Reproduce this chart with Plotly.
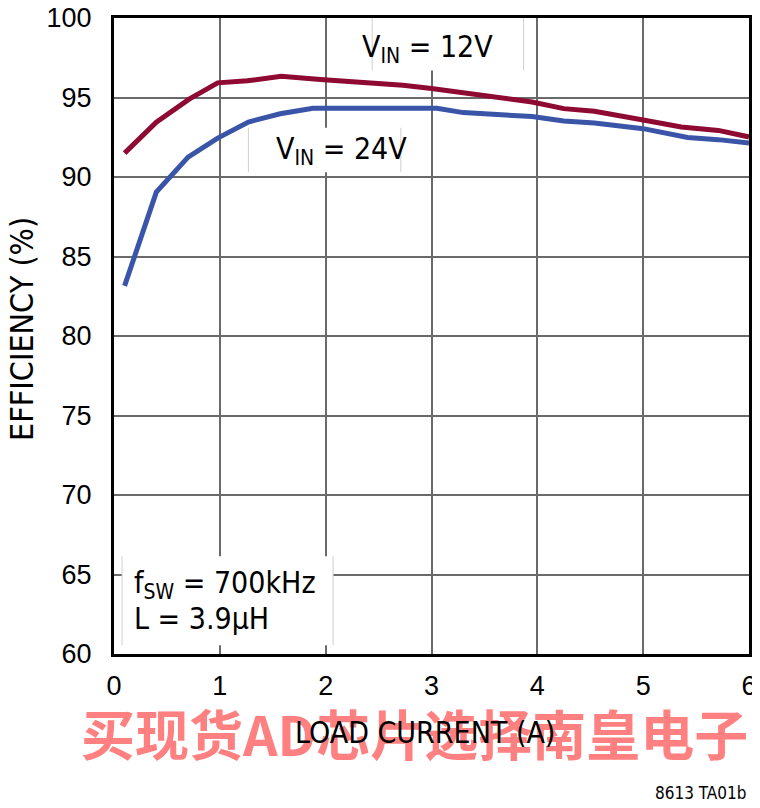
import plotly.graph_objects as go

# Data
load_12v = [0.1, 0.4, 0.71, 0.98, 1.26, 1.58, 1.95, 2.35, 2.73, 3.0, 3.4, 3.95, 4.25, 4.54, 5.0, 5.36, 5.71, 6.0]
eff_12v = [91.5, 93.45, 94.9, 95.92, 96.05, 96.33, 96.13, 95.95, 95.77, 95.56, 95.2, 94.72, 94.3, 94.13, 93.58, 93.15, 92.93, 92.52]

load_24v = [0.1, 0.4, 0.7, 0.98, 1.27, 1.57, 1.88, 3.05, 3.3, 3.95, 4.25, 4.54, 5.0, 5.42, 5.71, 6.0]
eff_24v = [83.15, 89.05, 91.25, 92.45, 93.46, 93.98, 94.32, 94.32, 94.05, 93.8, 93.52, 93.4, 93.04, 92.48, 92.35, 92.13]

x_ticks = [0, 1, 2, 3, 4, 5, 6]
y_ticks = [60, 65, 70, 75, 80, 85, 90, 95, 100]

RED = "#8E0A32"
BLUE = "#3A55A8"
NARROW = "DejaVu Sans Condensed, Liberation Sans Narrow, sans-serif"
REG = "Liberation Sans, Arial, sans-serif"

fig = go.Figure()
fig.add_trace(go.Scatter(x=load_12v, y=eff_12v, mode="lines",
                         line=dict(color=RED, width=5), showlegend=False))
fig.add_trace(go.Scatter(x=load_24v, y=eff_24v, mode="lines",
                         line=dict(color=BLUE, width=5), showlegend=False))

# white label boxes (above grid, below traces)
boxes = [(2.44, 3.87, 96.7, 100), (1.27, 2.71, 90.3, 93.1), (0.076, 2.07, 60.55, 66.15)]
for x0, x1, y0, y1 in boxes:
    fig.add_shape(type="rect", x0=x0, x1=x1, y0=y0, y1=y1, xref="x", yref="y",
                  fillcolor="white", line=dict(width=0), layer="between")
    for xe in (x0, x1):
        fig.add_shape(type="line", x0=xe, x1=xe, y0=y0, y1=y1, xref="x", yref="y",
                      line=dict(color="#d0d0d0", width=1), layer="between")

annotations = [
    dict(x=2.96, y=98.08, xref="x", yref="y", text="V<sub>IN</sub> = 12V",
         showarrow=False, xanchor="center", yanchor="middle",
         font=dict(family=NARROW, size=30, color="black")),
    dict(x=2.145, y=91.64, xref="x", yref="y", text="V<sub>IN</sub> = 24V",
         showarrow=False, xanchor="center", yanchor="middle",
         font=dict(family=NARROW, size=30, color="black")),
    dict(x=0.17, y=64.34, xref="x", yref="y", text="f<sub>SW</sub> = 700kHz",
         showarrow=False, xanchor="left", yanchor="middle",
         font=dict(family=NARROW, size=30, color="black")),
    dict(x=0.17, y=62.26, xref="x", yref="y", text="L = 3.9µH",
         showarrow=False, xanchor="left", yanchor="middle",
         font=dict(family=NARROW, size=30, color="black")),
    # watermark
    dict(x=0.474, y=-0.1242, xref="paper", yref="paper",
         text="<b>买现货AD芯片选择南皇电子</b>", showarrow=False,
         xanchor="center", yanchor="middle",
         font=dict(family="Noto Sans CJK SC", size=54, color="#FF8080")),
    # x axis title (drawn over watermark)
    dict(x=0.4898, y=-0.1242, xref="paper", yref="paper",
         text="LOAD CURRENT (A)", showarrow=False, xanchor="center", yanchor="middle",
         font=dict(family=NARROW, size=30, color="black")),
    dict(x=-0.1449, y=0.511, xref="paper", yref="paper",
         text="EFFICIENCY (%)", showarrow=False, textangle=-90,
         xanchor="center", yanchor="middle",
         font=dict(family=NARROW, size=32, color="black")),
    dict(x=0.998, y=-0.2186, xref="paper", yref="paper",
         text="8613 TA01b", showarrow=False, xanchor="right", yanchor="middle",
         font=dict(family=NARROW, size=17, color="black")),
]

fig.update_layout(
    width=752, height=800,
    margin=dict(l=106, r=11, t=10, b=154, autoexpand=False),
    paper_bgcolor="white", plot_bgcolor="white",
    annotations=annotations,
    xaxis=dict(range=[0, 6], tickvals=x_ticks, ticktext=[str(v) for v in x_ticks],
               showgrid=True, gridcolor="#6a6a6a", gridwidth=2,
               showline=True, linecolor="black", linewidth=3, mirror=True,
               ticks="", ticklabelstandoff=6, zeroline=False,
               ticklabeloverflow="allow",
               tickfont=dict(family=REG, size=27, color="black")),
    yaxis=dict(range=[60, 100], tickvals=y_ticks, ticktext=[str(v) for v in y_ticks],
               showgrid=True, gridcolor="#6a6a6a", gridwidth=2,
               showline=True, linecolor="black", linewidth=3, mirror=True,
               ticks="", ticklabelstandoff=14, zeroline=False,
               ticklabeloverflow="allow",
               tickfont=dict(family=REG, size=27, color="black")),
)

fig.write_html("out.html")
